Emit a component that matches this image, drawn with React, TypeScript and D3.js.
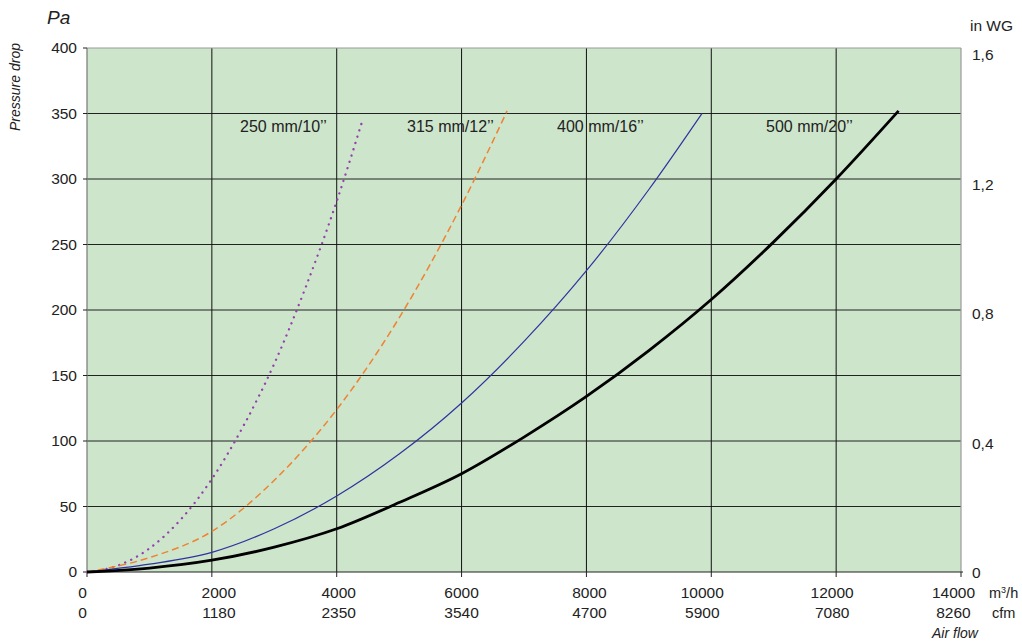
import React from 'react';
import * as d3 from 'd3';

const flowTicks = [0, 2000, 4000, 6000, 8000, 10000, 12000, 14000];
const cfmLabels = ['0', '1180', '2350', '3540', '4700', '5900', '7080', '8260'];
const paTicks = [0, 50, 100, 150, 200, 250, 300, 350, 400];
const wgTicks = [0, 0.4, 0.8, 1.2, 1.6];

const d250 = [[0, 0], [500, 5], [1000, 18], [1500, 40], [2000, 71], [2500, 111], [3000, 159], [3500, 217], [4000, 283], [4420, 346]];
const d315 = [[0, 0], [1000, 11], [2000, 31], [3000, 70], [4000, 124], [5000, 194], [6000, 280], [6730, 352]];
const d400 = [[0, 0], [1000, 6], [2000, 15], [3000, 33], [4000, 58], [5000, 90], [6000, 129], [7000, 176], [8000, 230], [9000, 292], [9850, 350]];
const d500 = [[0, 0], [1000, 3], [2000, 9], [3000, 19], [4000, 33], [5000, 53], [6000, 75], [7000, 103], [8000, 134], [9000, 169], [10000, 208], [11000, 252], [12000, 300], [13000, 352]];

const series = [
  { name: '250 mm/10’’', data: d250, color: '#9440ad', width: 2.3, dash: '0.1,6.5', lx: 240 },
  { name: '315 mm/12’’', data: d315, color: '#f08232', width: 1.5, dash: '7,4', lx: 407 },
  { name: '400 mm/16’’', data: d400, color: '#2e33a0', width: 1.2, dash: null, lx: 557 },
  { name: '500 mm/20’’', data: d500, color: '#000000', width: 2.8, dash: null, lx: 766 },
];

// small label nudges, as in the original layout
const xLabelShift = [-4.5, 7, 2, 0, 3, -9, -4, -7.5];

const W = 1022, H = 642;
const L = 87, R = 961, T = 48, B = 572;
const font = 'Liberation Sans, Arial, Helvetica, sans-serif';
const fs = 15.5;

export default function App() {
  const x = d3.scaleLinear().domain([0, 14000]).range([L, R]);
  const y = d3.scaleLinear().domain([0, 400]).range([B, T]);
  const yr = d3.scaleLinear().domain([0, 1.6]).range([B + 1, 55]);
  const line = d3.line<number[]>().x(d => x(d[0])).y(d => y(d[1])).curve(d3.curveMonotoneX);

  return (
    <svg width={W} height={H} style={{ position: 'absolute', left: 0, top: 0 }} fontFamily={font}>
      <rect x={L} y={T} width={R - L} height={B - T} fill="#cde5cb" />
      {paTicks.slice(1, -1).map(v => (
        <line key={'h' + v} x1={L} x2={R} y1={y(v)} y2={y(v)} stroke="#222" strokeWidth={1} />
      ))}
      {flowTicks.slice(1, -1).map(v => (
        <line key={'v' + v} x1={x(v)} x2={x(v)} y1={T} y2={B} stroke="#111" strokeWidth={1} />
      ))}
      <line x1={L} x2={R} y1={T} y2={T} stroke="#999" strokeWidth={1.2} />
      <line x1={R} x2={R} y1={T} y2={B} stroke="#999" strokeWidth={1.2} />
      <line x1={L} x2={L} y1={T} y2={B} stroke="#777" strokeWidth={1.2} />
      <line x1={L} x2={R + 2} y1={B} y2={B} stroke="#222" strokeWidth={1.2} />
      {paTicks.map(v => (
        <g key={'yt' + v}>
          <line x1={L - 4} x2={L} y1={y(v)} y2={y(v)} stroke="#222" />
          <text x={L - 10} y={y(v)} dy="0.35em" textAnchor="end" fontSize={fs} fill="#222">{v}</text>
        </g>
      ))}
      {wgTicks.map(v => (
        <text key={'wg' + v} x={972} y={yr(v)} dy="0.35em" fontSize={fs} fill="#222">
          {v === 0 ? '0' : v.toFixed(1).replace('.', ',')}
        </text>
      ))}
      {flowTicks.map((v, i) => (
        <g key={'xt' + v}>
          <line x1={x(v)} x2={x(v)} y1={B} y2={B + 5} stroke="#222" />
          <text x={x(v) + xLabelShift[i]} y={593} dy="0.35em" textAnchor="middle" fontSize={fs} fill="#222">{v}</text>
          <text x={x(v) + xLabelShift[i]} y={613} dy="0.35em" textAnchor="middle" fontSize={fs} fill="#222">{cfmLabels[i]}</text>
        </g>
      ))}
      <text x={989} y={593} dy="0.35em" fontSize={14.5} fill="#222">m<tspan fontSize={9} dy="-5">3</tspan><tspan dy="5">/h</tspan></text>
      <text x={992} y={613} dy="0.35em" fontSize={14.5} fill="#222">cfm</text>
      <text x={932} y={633} dy="0.35em" fontSize={14} fontStyle="italic" fill="#222">Air flow</text>
      <text x={47} y={17} dy="0.35em" fontSize={19} fontStyle="italic" fill="#222">Pa</text>
      <text transform="translate(15,87) rotate(-90)" dy="0.35em" textAnchor="middle" fontSize={14} fontStyle="italic" fill="#222">Pressure drop</text>
      <text x={970} y={26} dy="0.35em" fontSize={fs} fill="#222">in WG</text>
      {series.map(s => (
        <path key={s.name} d={line(s.data) || ''} fill="none" stroke={s.color} strokeWidth={s.width}
          strokeDasharray={s.dash || undefined} strokeLinecap={s.dash && s.dash.startsWith('0.1') ? 'round' : 'butt'} />
      ))}
      {series.map(s => (
        <text key={'l' + s.name} x={s.lx} y={126} dy="0.35em" fontSize={16} fill="#222">{s.name}</text>
      ))}
    </svg>
  );
}
